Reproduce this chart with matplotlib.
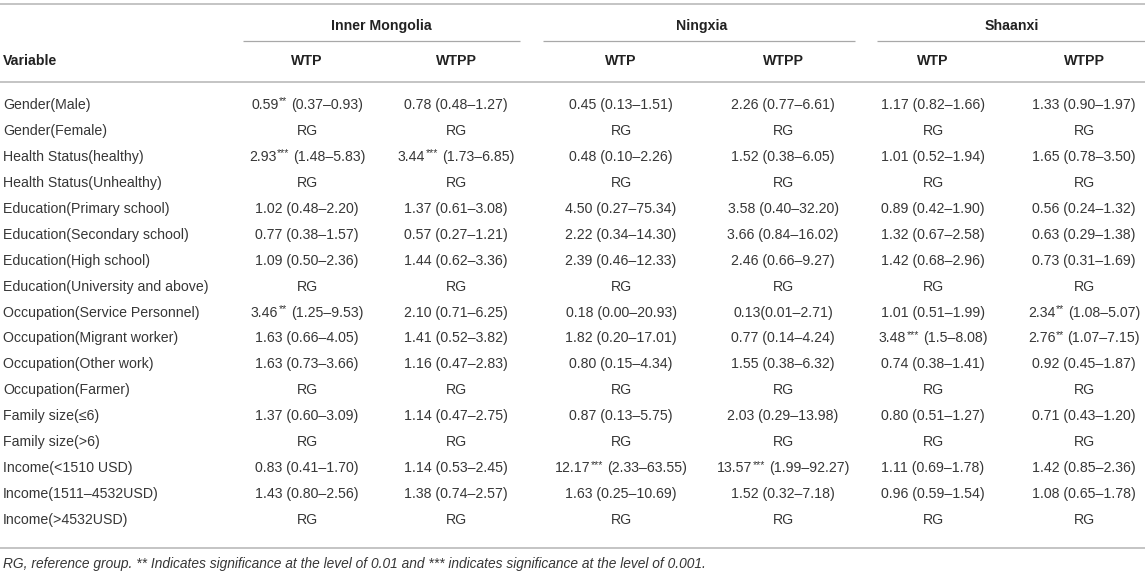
import re
import numpy as np
import matplotlib
matplotlib.use("Agg")
import matplotlib.pyplot as plt

plt.rcParams['font.family'] = ['Liberation Sans', 'DejaVu Sans']

groups = ["Inner Mongolia", "Ningxia", "Shaanxi"]
subheads = ["WTP", "WTPP", "WTP", "WTPP", "WTP", "WTPP"]

variables = [
    "Gender(Male)", "Gender(Female)", "Health Status(healthy)", "Health Status(Unhealthy)",
    "Education(Primary school)", "Education(Secondary school)", "Education(High school)",
    "Education(University and above)", "Occupation(Service Personnel)",
    "Occupation(Migrant worker)", "Occupation(Other work)", "Occupation(Farmer)",
    "Family size(\u22646)", "Family size(>6)", "Income(<1510 USD)", "Income(1511\u20134532USD)",
    "Income(>4532USD)",
]

im_wtp = ["0.59** (0.37–0.93)", "RG", "2.93*** (1.48–5.83)", "RG", "1.02 (0.48–2.20)",
          "0.77 (0.38–1.57)", "1.09 (0.50–2.36)", "RG", "3.46** (1.25–9.53)", "1.63 (0.66–4.05)",
          "1.63 (0.73–3.66)", "RG", "1.37 (0.60–3.09)", "RG", "0.83 (0.41–1.70)",
          "1.43 (0.80–2.56)", "RG"]
im_wtpp = ["0.78 (0.48–1.27)", "RG", "3.44*** (1.73–6.85)", "RG", "1.37 (0.61–3.08)",
           "0.57 (0.27–1.21)", "1.44 (0.62–3.36)", "RG", "2.10 (0.71–6.25)", "1.41 (0.52–3.82)",
           "1.16 (0.47–2.83)", "RG", "1.14 (0.47–2.75)", "RG", "1.14 (0.53–2.45)",
           "1.38 (0.74–2.57)", "RG"]
nx_wtp = ["0.45 (0.13–1.51)", "RG", "0.48 (0.10–2.26)", "RG", "4.50 (0.27–75.34)",
          "2.22 (0.34–14.30)", "2.39 (0.46–12.33)", "RG", "0.18 (0.00–20.93)",
          "1.82 (0.20–17.01)", "0.80 (0.15–4.34)", "RG", "0.87 (0.13–5.75)", "RG",
          "12.17*** (2.33–63.55)", "1.63 (0.25–10.69)", "RG"]
nx_wtpp = ["2.26 (0.77–6.61)", "RG", "1.52 (0.38–6.05)", "RG", "3.58 (0.40–32.20)",
           "3.66 (0.84–16.02)", "2.46 (0.66–9.27)", "RG", "0.13(0.01–2.71)", "0.77 (0.14–4.24)",
           "1.55 (0.38–6.32)", "RG", "2.03 (0.29–13.98)", "RG", "13.57*** (1.99–92.27)",
           "1.52 (0.32–7.18)", "RG"]
sx_wtp = ["1.17 (0.82–1.66)", "RG", "1.01 (0.52–1.94)", "RG", "0.89 (0.42–1.90)",
          "1.32 (0.67–2.58)", "1.42 (0.68–2.96)", "RG", "1.01 (0.51–1.99)",
          "3.48*** (1.5–8.08)", "0.74 (0.38–1.41)", "RG", "0.80 (0.51–1.27)", "RG",
          "1.11 (0.69–1.78)", "0.96 (0.59–1.54)", "RG"]
sx_wtpp = ["1.33 (0.90–1.97)", "RG", "1.65 (0.78–3.50)", "RG", "0.56 (0.24–1.32)",
           "0.63 (0.29–1.38)", "0.73 (0.31–1.69)", "RG", "2.34** (1.08–5.07)",
           "2.76** (1.07–7.15)", "0.92 (0.45–1.87)", "RG", "0.71 (0.43–1.20)", "RG",
           "1.42 (0.85–2.36)", "1.08 (0.65–1.78)", "RG"]

footnote = ("RG, reference group. ** Indicates significance at the level of 0.01 and "
            "*** indicates significance at the level of 0.001.")

columns = [im_wtp, im_wtpp, nx_wtp, nx_wtpp, sx_wtp, sx_wtpp]

W, H = 1145, 577
fig = plt.figure(figsize=(W / 100, H / 100), dpi=100)
ax = fig.add_axes([0, 0, 1, 1])
ax.set_xlim(0, W)
ax.set_ylim(H, 0)
ax.axis("off")

body_col = "#363636"
head_col = "#222222"
fs = 10.2

col_x = [307, 456, 621, 783, 933, 1084]
group_x = [381, 702, 1012]
group_lines = [(243, 520), (543, 855), (877, 1145)]
row_y0, row_dy = 105, 25.94

renderer = fig.canvas.get_renderer()


def text_width(t):
    return t.get_window_extent(renderer=renderer).width


def draw_cell(xc, y, s):
    # value with superscript stars, e.g. 0.59** (0.37–0.93)
    m = re.match(r"^([\d.]+)(\*+)\s?(.*)$", s)
    if not m:
        ax.text(xc, y, s, ha="center", va="center", fontsize=fs, color=body_col)
        return
    val, stars, rest = m.groups()
    t1 = ax.text(0, y, val, ha="left", va="center", fontsize=fs, color=body_col)
    t2 = ax.text(0, y - 3.5, stars, ha="left", va="center", fontsize=fs * 0.75, color=body_col)
    t3 = ax.text(0, y, rest, ha="left", va="center", fontsize=fs, color=body_col)
    w1, w2, w3 = text_width(t1), text_width(t2), text_width(t3)
    gap = 4
    x0 = xc - (w1 + w2 + gap + w3) / 2
    t1.set_x(x0)
    t2.set_x(x0 + w1 + 0.5)
    t3.set_x(x0 + w1 + w2 + gap)


# rules
ax.plot([0, W], [4, 4], color="#c4c4c4", lw=1.4, solid_capstyle="butt")
ax.plot([0, W], [82, 82], color="#c4c4c4", lw=1.4, solid_capstyle="butt")
ax.plot([0, W], [548, 548], color="#c4c4c4", lw=1.4, solid_capstyle="butt")
for x1, x2 in group_lines:
    ax.plot([x1, x2], [41, 41], color="#a8a8a8", lw=0.9, solid_capstyle="butt")

# headers
for gx, g in zip(group_x, groups):
    ax.text(gx, 26, g, ha="center", va="center", fontsize=fs, fontweight="bold", color=head_col)
ax.text(3, 61, "Variable", ha="left", va="center", fontsize=fs, fontweight="bold", color=head_col)
for cx, sh in zip(col_x, subheads):
    ax.text(cx, 61, sh, ha="center", va="center", fontsize=fs, fontweight="bold", color=head_col)

# body
for i, var in enumerate(variables):
    y = row_y0 + i * row_dy
    ax.text(3, y, var, ha="left", va="center", fontsize=fs, color=body_col)
    for cx, col in zip(col_x, columns):
        draw_cell(cx, y, col[i])

ax.text(3, 564, footnote, ha="left", va="center", fontsize=9.9, style="italic", color=body_col)

fig.savefig("out.png", dpi=100)
